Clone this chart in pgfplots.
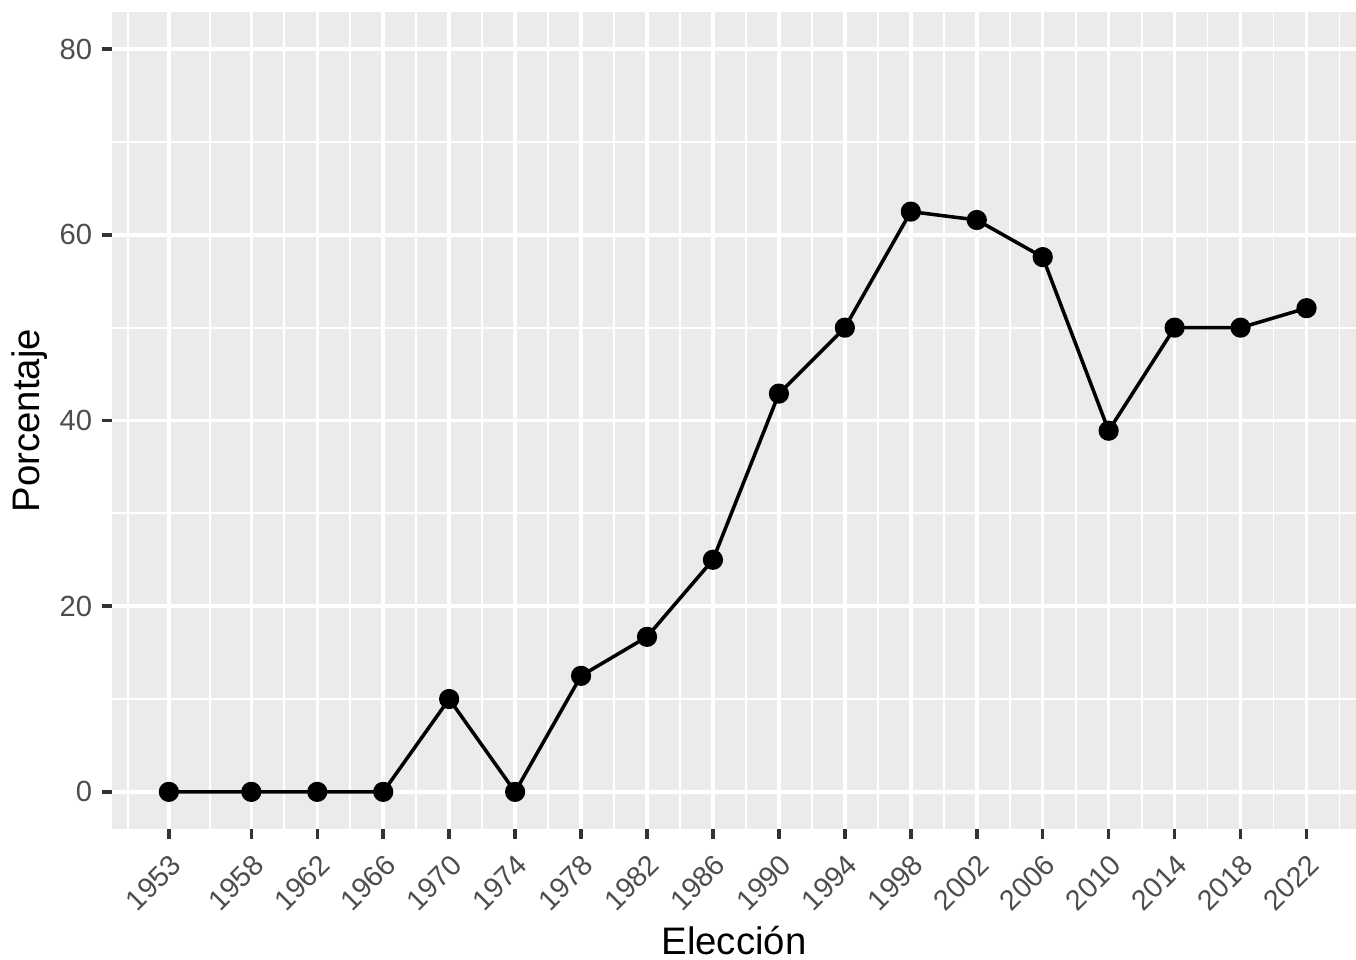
\documentclass[border=0pt]{standalone}
\usepackage{fontspec}
\setmainfont{Liberation Sans}
\usepackage{pgfplots}
\pgfplotsset{compat=1.18}
\usetikzlibrary{calc}
\definecolor{panelbg}{RGB}{235,235,235}
\definecolor{tickgray}{RGB}{51,51,51}
\definecolor{labelgray}{RGB}{77,77,77}

\begin{document}
\begin{tikzpicture}
\begin{axis}[
  at={(0,0)}, anchor=south west,
  scale only axis,
  width=447.84pt, height=294.12pt,
  xmin=1949.55, xmax=2025,
  ymin=-4, ymax=84,
  xtick={1953,1958,1962,1966,1970,1974,1978,1982,1986,1990,1994,1998,2002,2006,2010,2014,2018,2022},
  minor xtick={1950.5,1955.5,1960,1964,...,2024},
  ytick={0,20,40,60,80},
  minor ytick={10,30,50,70},
  grid=both,
  major grid style={white, line width=1.27pt},
  minor grid style={white, line width=0.64pt},
  axis background/.style={fill=panelbg},
  axis line style={draw=none},
  tick pos=left,
  tick align=outside,
  major tick length=3.6pt,
  minor tick length=0pt,
  major tick style={tickgray, line width=1.27pt},
  /pgf/number format/assume math mode=true,
  /pgf/number format/1000 sep={},
  xticklabel style={rotate=45, anchor=north east, font=\fontsize{10.3}{12}\selectfont, text=labelgray},
  yticklabel style={font=\fontsize{10.5}{12}\selectfont, text=labelgray},
  xlabel={Elección},
  ylabel={Porcentaje},
  label style={font=\fontsize{13.8}{16}\selectfont},
  xlabel style={at={(axis description cs:0.5,0)}, anchor=base, yshift=-45.2pt},
  ylabel style={at={(axis description cs:0,0.5)}, anchor=center, yshift=29.5pt},
]
\addplot[black, line width=1.27pt, line join=round, mark=*, mark size=3pt, mark options={solid, fill=black}] coordinates {
  (1953, 0) (1958, 0) (1962, 0) (1966, 0) (1970, 10) (1974, 0)
  (1978, 12.5) (1982, 16.7) (1986, 25) (1990, 42.9) (1994, 50)
  (1998, 62.5) (2002, 61.6) (2006, 57.6) (2010, 38.9) (2014, 50)
  (2018, 50) (2022, 52.1)
};
\end{axis}
\pgfresetboundingbox
\path[use as bounding box] (-40.32pt,-47.16pt) rectangle (447.84pt,298.44pt);
\end{tikzpicture}
\end{document}
